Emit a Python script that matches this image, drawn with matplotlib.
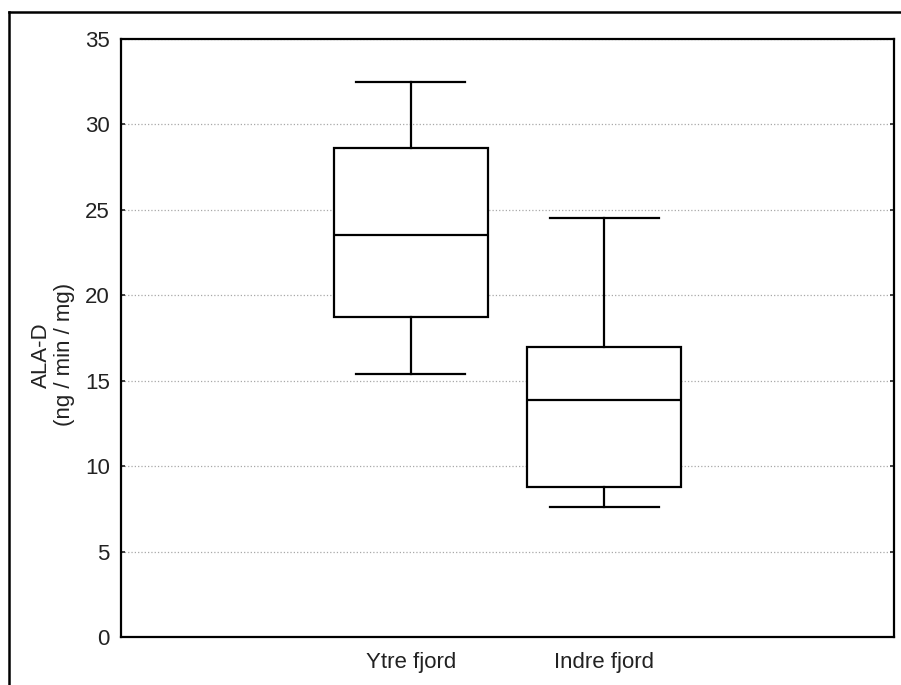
import matplotlib
matplotlib.use("Agg")
import matplotlib.pyplot as plt
from matplotlib.lines import Line2D

# box statistics
categories = ["Ytre fjord", "Indre fjord"]
whislo = [15.4, 7.6]
q1 = [18.7, 8.8]
med = [23.5, 13.9]
q3 = [28.6, 17.0]
whishi = [32.5, 24.5]
positions = [1, 2]
yticks = [0, 5, 10, 15, 20, 25, 30, 35]

plt.rcParams['font.family'] = ['Liberation Sans', 'DejaVu Sans']
plt.rcParams['font.size'] = 16


def main():
    fig = plt.figure(figsize=(9.01, 6.85), dpi=100)
    ax = fig.add_axes([121 / 901, 1 - 637 / 685, 773 / 901, 598 / 685])

    stats = []
    for i in range(len(categories)):
        stats.append({
            "label": categories[i],
            "whislo": whislo[i],
            "q1": q1[i],
            "med": med[i],
            "q3": q3[i],
            "whishi": whishi[i],
            "fliers": [],
        })

    ax.bxp(stats, positions=positions, widths=0.8, capwidths=0.565,
           showfliers=False, patch_artist=True,
           boxprops=dict(facecolor="white", edgecolor="black", linewidth=1.6),
           medianprops=dict(color="black", linewidth=1.6),
           whiskerprops=dict(color="black", linewidth=1.6),
           capprops=dict(color="black", linewidth=1.6),
           zorder=3)

    ax.set_xlim(-0.5, 3.5)
    ax.set_ylim(0, 35)
    ax.set_yticks(yticks)
    ax.set_xticks(positions)
    ax.set_xticklabels(categories)
    ax.yaxis.grid(True, linestyle=":", color="#a8a8a8", linewidth=0.9, zorder=0)
    ax.set_axisbelow(True)

    ax.tick_params(axis="y", direction="in", length=3, width=1.2, pad=8,
                   right=True, colors="#222222")
    ax.tick_params(axis="x", length=0, pad=11, colors="#222222")
    for s in ax.spines.values():
        s.set_linewidth(1.6)

    ax.set_ylabel("ALA-D\n(ng / min / mg)", linespacing=1.1, color="#222222")
    ax.yaxis.set_label_coords(-0.0596, 0.472)

    # outer frame (top and left edges visible)
    fig.add_artist(Line2D([9 / 901, 9 / 901], [1 - 12 / 685, 0],
                          transform=fig.transFigure, color="black", lw=1.8))
    fig.add_artist(Line2D([9 / 901, 1], [1 - 12 / 685, 1 - 12 / 685],
                          transform=fig.transFigure, color="black", lw=1.8))

    fig.savefig("out.png", dpi=100, facecolor="white")


if __name__ == '__main__':
    main()
